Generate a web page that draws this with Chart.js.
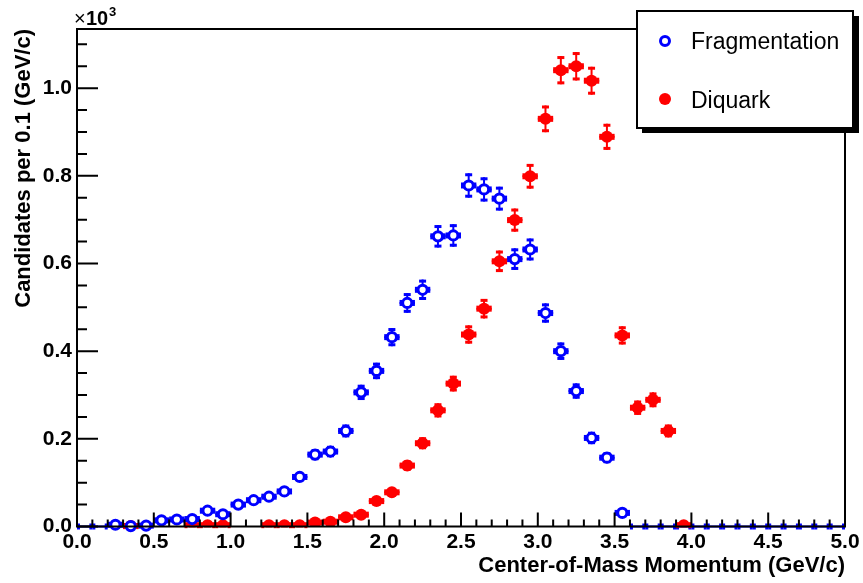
<!DOCTYPE html>
<html>
<head>
<meta charset="utf-8">
<script src="https://cdn.jsdelivr.net/npm/chart.js@4"></script>
<style>
  html, body { margin: 0; padding: 0; background: #fff; }
  canvas { display: block; }
</style>
</head>
<body>
<canvas id="cms" width="863" height="583"></canvas>
<script>
// bin centres (GeV/c), bin width 0.1
const momentum = [0.05, 0.15, 0.25, 0.35, 0.45, 0.55, 0.65, 0.75, 0.85, 0.95,
                  1.05, 1.15, 1.25, 1.35, 1.45, 1.55, 1.65, 1.75, 1.85, 1.95,
                  2.05, 2.15, 2.25, 2.35, 2.45, 2.55, 2.65, 2.75, 2.85, 2.95,
                  3.05, 3.15, 3.25, 3.35, 3.45, 3.55, 3.65, 3.75, 3.85, 3.95,
                  4.05, 4.15, 4.25, 4.35, 4.45, 4.55, 4.65, 4.75, 4.85, 4.95];
const fragmentation = [0, 0, 4, 1, 2, 14, 16, 17, 36, 28,
                       50, 60, 68, 80, 113, 164, 171, 218, 306, 355,
                       432, 510, 540, 662, 664, 778, 769, 748, 610, 632,
                       487, 400, 309, 202, 157, 31, 0, 0, 0, 0,
                       0, 0, 0, 0, 0, 0, 0, 0, 0, 0];
const diquark = [null, null, null, 1, null, null, null, 3, 3, 3,
                 null, null, 3, 3, 3, 9, 11, 21, 27, 58,
                 78, 139, 190, 265, 326, 438, 497, 605, 699, 799,
                 930, 1041, 1050, 1017, 889, 436, 271, 289, 218, 3,
                 null, null, null, null, null, null, null, null, null, null];
const xTicks = [0, 0.5, 1, 1.5, 2, 2.5, 3, 3.5, 4, 4.5, 5];
const yTicks = [0, 200, 400, 600, 800, 1000];
const halfBin = 0.05;

const BLUE = '#0000ff';
const RED = '#ff0000';

function toPoints(vals) {
    return momentum.map((x, i) => ({x: x, y: vals[i]})).filter(p => p.y !== null);
}

// error bars: horizontal = bin half width, vertical = sqrt(N)
const errorBars = {
    id: 'errorBars',
    beforeDatasetsDraw(chart) {
        const ctx = chart.ctx;
        const xs = chart.scales.x, ys = chart.scales.y;
        const a = chart.chartArea;
        ctx.save();
        ctx.beginPath();
        ctx.rect(a.left, a.top - 10, a.right - a.left, a.bottom - a.top + 20);
        ctx.clip();
        chart.data.datasets.forEach(ds => {
            ctx.strokeStyle = ds.borderColor;
            ctx.fillStyle = ds.borderColor;
            ctx.lineWidth = 2;
            ds.data.forEach(p => {
                const px = xs.getPixelForValue(p.x);
                const py = ys.getPixelForValue(p.y);
                const x1 = xs.getPixelForValue(p.x - halfBin);
                const x2 = xs.getPixelForValue(p.x + halfBin);
                ctx.beginPath();
                ctx.moveTo(x1, py); ctx.lineTo(x2, py);
                ctx.stroke();
                ctx.fillRect(x1, py - 3, 3, 6);
                ctx.fillRect(x2 - 3, py - 3, 3, 6);
                if (p.y > 0) {
                    const err = Math.sqrt(p.y);
                    const y1 = ys.getPixelForValue(p.y + err);
                    const y2 = ys.getPixelForValue(p.y - err);
                    ctx.beginPath();
                    ctx.moveTo(px, y1); ctx.lineTo(px, y2);
                    ctx.stroke();
                    ctx.fillRect(px - 3.5, y1, 7, 3);
                    ctx.fillRect(px - 3.5, y2 - 3, 7, 3);
                }
            });
        });
        ctx.restore();
    }
};

// frame, inward ticks, titles, legend
const decorations = {
    id: 'decorations',
    afterDraw(chart) {
        const ctx = chart.ctx;
        const xs = chart.scales.x, ys = chart.scales.y;
        const a = chart.chartArea;
        ctx.save();
        ctx.strokeStyle = '#000';
        ctx.lineWidth = 2;
        ctx.strokeRect(a.left, a.top, a.right - a.left, a.bottom - a.top);

        ctx.beginPath();
        for (let i = 0; i <= 50; i++) {
            const v = i * 0.1;
            const px = xs.getPixelForValue(v);
            const len = (i % 5 === 0) ? 14 : 7;
            ctx.moveTo(px, a.bottom);
            ctx.lineTo(px, a.bottom - len);
        }
        for (let i = 0; i <= 22; i++) {
            const v = i * 50;
            const py = ys.getPixelForValue(v);
            const len = (i % 4 === 0) ? 21 : 10;
            ctx.moveTo(a.left, py);
            ctx.lineTo(a.left + len, py);
        }
        ctx.stroke();

        ctx.fillStyle = '#000';
        ctx.font = 'bold 22px "Liberation Sans", Arial, sans-serif';
        ctx.textAlign = 'right';
        ctx.textBaseline = 'alphabetic';
        ctx.fillText('Center-of-Mass Momentum (GeV/c)', a.right, 572);

        ctx.save();
        ctx.translate(30, a.top);
        ctx.rotate(-Math.PI / 2);
        ctx.textAlign = 'right';
        ctx.fillText('Candidates per 0.1 (GeV/c)', 0, 0);
        ctx.restore();

        ctx.textAlign = 'left';
        ctx.font = '20px "Liberation Sans", Arial, sans-serif';
        ctx.fillText('\u00d7', 74, 25);
        ctx.font = 'bold 20px "Liberation Sans", Arial, sans-serif';
        ctx.fillText('10', 86, 25);
        ctx.font = 'bold 13px "Liberation Sans", Arial, sans-serif';
        ctx.fillText('3', 109, 16);

        // legend box with shadow
        ctx.fillStyle = '#000';
        ctx.fillRect(642, 16, 217, 117);
        ctx.fillStyle = '#fff';
        ctx.fillRect(637, 11, 216, 117);
        ctx.strokeRect(637, 11, 216, 117);

        ctx.lineWidth = 3;
        ctx.strokeStyle = BLUE;
        ctx.beginPath();
        ctx.arc(665, 41, 4.5, 0, Math.PI * 2);
        ctx.stroke();
        ctx.fillStyle = RED;
        ctx.beginPath();
        ctx.arc(665, 99, 6, 0, Math.PI * 2);
        ctx.fill();

        ctx.fillStyle = '#000';
        ctx.font = '23px "Liberation Sans", Arial, sans-serif';
        ctx.textBaseline = 'alphabetic';
        ctx.fillText('Fragmentation', 691, 49);
        ctx.fillText('Diquark', 691, 108);
        ctx.restore();
    }
};

const cms = document.getElementById('cms').getContext('2d');
const chartCMS = new Chart(cms, {
    type: 'scatter',
    data: {
        datasets: [{
            label: 'Fragmentation',
            data: toPoints(fragmentation),
            borderColor: BLUE,
            backgroundColor: '#ffffff',
            borderWidth: 3,
            pointRadius: ctx => (ctx.raw && ctx.raw.y > 0) ? 4.6 : 0,
            clip: false
        }, {
            label: 'Diquark',
            data: toPoints(diquark),
            borderColor: RED,
            backgroundColor: RED,
            borderWidth: 0,
            pointRadius: 6,
            clip: 0
        }]
    },
    options: {
        responsive: false,
        animation: false,
        layout: { padding: { top: 29, right: 18, left: 0, bottom: 0 } },
        plugins: {
            legend: { display: false },
            tooltip: { enabled: false }
        },
        scales: {
            x: {
                type: 'linear',
                min: 0,
                max: 5,
                afterFit: s => { s.height = 56.5; },
                afterBuildTicks: s => { s.ticks = xTicks.map(v => ({value: v})); },
                grid: { display: false, drawTicks: false },
                border: { display: false },
                ticks: {
                    color: '#000',
                    padding: 3,
                    maxRotation: 0,
                    autoSkip: false,
                    font: { family: '"Liberation Sans", Arial, sans-serif', size: 21, weight: 'bold' },
                    callback: v => v.toFixed(1)
                }
            },
            y: {
                type: 'linear',
                min: 0,
                max: 1135,
                afterFit: s => { s.width = 77; },
                afterBuildTicks: s => { s.ticks = yTicks.map(v => ({value: v})); },
                grid: { display: false, drawTicks: false },
                border: { display: false },
                ticks: {
                    color: '#000',
                    padding: 5,
                    font: { family: '"Liberation Sans", Arial, sans-serif', size: 21, weight: 'bold' },
                    callback: v => (v / 1000).toFixed(1)
                }
            }
        }
    },
    plugins: [errorBars, decorations]
});
</script>
</body>
</html>
